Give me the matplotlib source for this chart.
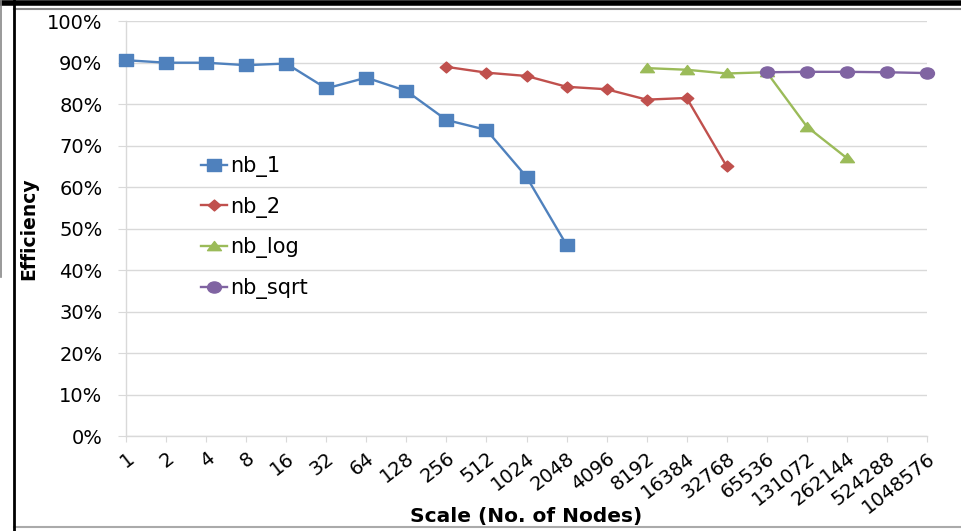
import matplotlib
matplotlib.use("Agg")
import matplotlib.pyplot as plt
from matplotlib.lines import Line2D
from matplotlib.path import Path
from matplotlib.transforms import Affine2D
from matplotlib.ticker import PercentFormatter

plt.rcParams["font.family"] = ["DejaVu Sans"]

# categories: node counts 2^0 .. 2^20
SCALES = [str(2 ** i) for i in range(21)]

# efficiency (%); each series starts at a given category
NB_1 = [90.6, 90.0, 90.0, 89.4, 89.8, 83.8, 86.4, 83.2, 76.2, 73.8, 62.5, 46.1]
NB_1_START = 0

NB_2 = [89.0, 87.6, 86.8, 84.2, 83.6, 81.1, 81.5, 65.0]
NB_2_START = 8

NB_LOG = [88.7, 88.3, 87.4, 87.7, 74.6, 67.0]
NB_LOG_START = 13

NB_SQRT = [87.7, 87.8, 87.8, 87.7, 87.5]
NB_SQRT_START = 16

# the source picture is stretched sideways, so the markers are too
STRETCH = Affine2D().scale(1.25, 1.0)
SQUARE = Path([(-1, -1), (1, -1), (1, 1), (-1, 1), (-1, -1)], closed=True).transformed(STRETCH)
DIAMOND = Path([(0, -1), (1, 0), (0, 1), (-1, 0), (0, -1)], closed=True).transformed(
    Affine2D().scale(1.15, 1.0))
TRIANGLE = Path([(-1, -0.75), (1, -0.75), (0, 0.9), (-1, -0.75)], closed=True).transformed(
    Affine2D().scale(1.25, 1.0))
CIRCLE = Path.unit_circle().transformed(STRETCH)

SERIES = [
    ("nb_1", NB_1_START, NB_1, "#4F81BD", SQUARE, 10),
    ("nb_2", NB_2_START, NB_2, "#C0504D", DIAMOND, 9),
    ("nb_log", NB_LOG_START, NB_LOG, "#9BBB59", TRIANGLE, 10),
    ("nb_sqrt", NB_SQRT_START, NB_SQRT, "#8064A2", CIRCLE, 10),
]

GRID = "#d9d9d9"

fig = plt.figure(figsize=(9.61, 5.31), dpi=100)
ax = fig.add_axes([126 / 961, 1 - 436.2 / 531, (927 - 126) / 961, (436.2 - 21.2) / 531])

for name, start, vals, color, marker, ms in SERIES:
    xs = range(start, start + len(vals))
    ax.plot(xs, vals, color=color, marker=marker, markersize=ms, linewidth=1.7,
            label=name, clip_on=False, zorder=3)

ax.set_xlim(0, len(SCALES) - 1)
ax.set_ylim(0, 100)
ax.set_yticks(range(0, 101, 10))
ax.yaxis.set_major_formatter(PercentFormatter(decimals=0))
ax.set_xticks(range(len(SCALES)))
ax.set_xticklabels(SCALES, rotation=38, ha="right", rotation_mode="anchor")

ax.grid(axis="y", color=GRID, linewidth=1)
ax.set_axisbelow(True)
for s in ["top", "right"]:
    ax.spines[s].set_visible(False)
for s in ["left", "bottom"]:
    ax.spines[s].set_color(GRID)
    ax.spines[s].set_linewidth(1)
ax.tick_params(axis="y", length=6, color=GRID, labelsize=14, pad=11)
ax.tick_params(axis="x", length=4, color=GRID, labelsize=14, pad=5)

ax.set_xlabel("Scale (No. of Nodes)", fontsize=14.5, fontweight="bold", va="top")
ax.xaxis.set_label_coords(0.5, -0.171)
ax.set_ylabel("Efficiency", fontsize=13.5, fontweight="bold")
ax.yaxis.set_label_coords(-0.11, 0.5)

ax.legend(loc="upper left", bbox_to_anchor=(65 / 801, 0.70), frameon=False,
          fontsize=15, handlelength=1.25, handletextpad=0.15, labelspacing=0.94,
          borderpad=0)

# page border lines around the pasted chart
fig.add_artist(Line2D([0, 1], [1 - 2.5 / 531] * 2, color="black", linewidth=4))
fig.add_artist(Line2D([14 / 961, 1], [1 - 9 / 531] * 2, color="#888888", linewidth=1.5))
fig.add_artist(Line2D([14 / 961, 1], [1 - 527 / 531] * 2, color="#aaaaaa", linewidth=1.5))
fig.add_artist(Line2D([13.5 / 961] * 2, [0, 1], color="black", linewidth=2))
fig.add_artist(Line2D([1 / 961] * 2, [1 - 277 / 531, 1], color="#888888", linewidth=1.2))

fig.savefig("out.png", dpi=100)
